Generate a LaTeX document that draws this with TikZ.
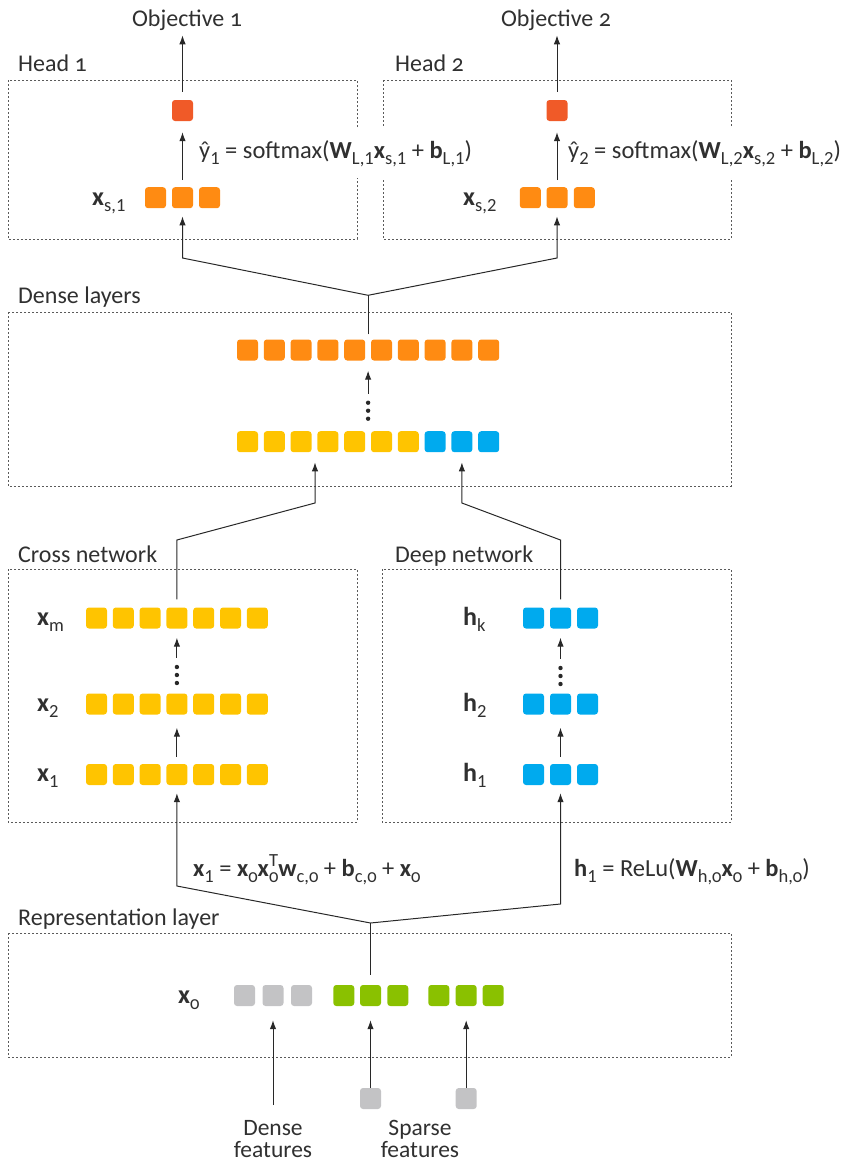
\documentclass[tikz,border=0pt]{standalone}
\usepackage{fontspec}
\setmainfont{Carlito}
\newfontfamily\oldnum{Carlito}[Numbers=OldStyle]
\usetikzlibrary{arrows.meta,calc}

\definecolor{ink}{RGB}{48,48,48}
\definecolor{wire}{RGB}{40,40,40}
\definecolor{frame}{RGB}{90,90,90}
\definecolor{cred}{RGB}{240,90,40}
\definecolor{corange}{RGB}{255,139,18}
\definecolor{cyellow}{RGB}{255,196,0}
\definecolor{cblue}{RGB}{0,170,238}
\definecolor{cgreen}{RGB}{138,193,0}
\definecolor{cgray}{RGB}{195,195,197}

% subscripts and superscripts in the formulas
\newcommand{\lo}[1]{\raisebox{-6pt}{\fontsize{18.5}{18.5}\selectfont #1}}
\newcommand{\hi}[1]{\raisebox{10pt}{\fontsize{18.5}{18.5}\selectfont #1}}
\newcommand{\zr}{{\oldnum 0}}

\begin{document}
\begin{tikzpicture}[x=1pt,y=-1pt,
  sq/.style={rectangle,minimum size=21pt,inner sep=0pt,rounded corners=3pt,draw=none},
  frm/.style={draw=frame,line width=0.9pt,dash pattern=on 2pt off 2pt},
  title/.style={text=ink,inner sep=0pt,anchor=base west,font=\oldnum\fontsize{24}{24}\selectfont},
  var/.style={text=ink,inner sep=0pt,anchor=base west,font=\fontsize{26}{26}\selectfont},
  eqn/.style={text=ink,inner sep=0pt,anchor=base west,font=\fontsize{24.5}{24.5}\selectfont},
  feat/.style={text=ink,inner sep=0pt,align=center,font=\fontsize{23.5}{22}\selectfont},
  vdots/.style={inner sep=0pt,minimum width=6pt,minimum height=22pt},
  line/.style={draw=wire,line width=1pt},
  arr/.style={line,-{Latex[length=9pt,width=6.5pt]}}]

\useasboundingbox (0,0) rectangle (860,1163);

% ---------- dashed frames ----------
\draw[frm] (8,80) rectangle (357,239);
\draw[frm] (383,80) rectangle (731,239);
\draw[frm] (8,312) rectangle (731,486);
\draw[frm] (8,569) rectangle (357,822);
\draw[frm] (382,569) rectangle (731,822);
\draw[frm] (8,933) rectangle (731,1057);

% ---------- frame titles ----------
\node[title] (tHead1) at (18,71) {Head 1};
\node[title] (tHead2) at (395,71) {Head 2};
\node[title] (tDense) at (18,303) {Dense layers};
\node[title] (tCross) at (18,562) {Cross network};
\node[title] (tDeep) at (395,562) {Deep network};
\node[title] (tRep) at (18,925) {Representation layer};

% ---------- heads ----------
\node[title,anchor=base] (obj1) at (187,26) {Objective 1};
\node[title,anchor=base] (obj2) at (556,26) {Objective 2};

\node[sq,fill=cred] (r1) at (182.5,110.5) {};
\node[sq,fill=cred] (r2) at (557,110.5) {};
\foreach \i/\x in {1/155.5,2/182.5,3/209.5}
  \node[sq,fill=corange] (sa\i) at (\x,197.7) {};
\foreach \i/\x in {1/530.3,2/557,3/584.3}
  \node[sq,fill=corange] (sb\i) at (\x,197.7) {};

\node[var] (lxs1) at (92,205) {\textbf{x}\lo{s,1}};
\node[var] (lxs2) at (463,205) {\textbf{x}\lo{s,2}};

\node[eqn,fill=white,inner xsep=3pt,inner ysep=12pt] (eq1) at (196,158)
  {ŷ\lo{1} = softmax(\textbf{W}\lo{L,1}\textbf{x}\lo{s,1} + \textbf{b}\lo{L,1})};
\node[eqn,fill=white,inner xsep=3pt,inner ysep=12pt] (eq2) at (565,158)
  {ŷ\lo{2} = softmax(\textbf{W}\lo{L,2}\textbf{x}\lo{s,2} + \textbf{b}\lo{L,2})};

\draw[arr,shorten <=8pt,shorten >=5pt] (r1.north) -- (r1.north |- obj1.south);
\draw[arr,shorten <=8pt,shorten >=5pt] (r2.north) -- (r2.north |- obj2.south);
\draw[arr,shorten <=7pt,shorten >=11pt] (sa2.north) -- (r1.south);
\draw[arr,shorten <=7pt,shorten >=11pt] (sb2.north) -- (r2.south);

% ---------- dense layers ----------
\foreach \i in {1,...,10}
  \node[sq,fill=corange] (do\i) at ({247.5+26.8*(\i-1)},350) {};
\foreach \i in {1,...,7}
  \node[sq,fill=cyellow] (dy\i) at ({247.5+26.8*(\i-1)},441.7) {};
\foreach \i in {8,9,10}
  \node[sq,fill=cblue] (dy\i) at ({247.5+26.8*(\i-1)},441.7) {};

\coordinate (dtop) at ($(do5.north)!0.5!(do6.north)$);
\coordinate (dbot) at ($(do5.south)!0.5!(do6.south)$);
\node[vdots] (dd) at ($(dbot)+(0,50)$) {};
\foreach \d in {-8,0,8} \fill[wire] ($(dd.center)+(0,\d)$) circle (2.2pt);
\draw[arr,shorten <=6pt,shorten >=10pt] (dd.north) -- (dbot);

% outputs of the dense stack to both heads
\coordinate (hj) at ($(dtop)+(0,-44)$);
\coordinate (hc1) at (sa2 |- 0,258);
\coordinate (hc2) at (sb2 |- 0,258);
\draw[line,shorten <=5pt] (dtop) -- (hj);
\draw[arr,shorten >=8pt] (hj) -- (hc1) -- (sa2.south);
\draw[arr,shorten >=8pt] (hj) -- (hc2) -- (sb2.south);

% ---------- cross network ----------
\foreach \r/\y in {m/618,2/704,1/774.5}
  \foreach \i in {1,...,7}
    \node[sq,fill=cyellow] (x\r\i) at ({96.5+26.8*(\i-1)},\y) {};
\node[var] (lxm) at (37,625) {\textbf{x}\lo{m}};
\node[var] (lx2) at (37,711) {\textbf{x}\lo{2}};
\node[var] (lx1) at (37,781.5) {\textbf{x}\lo{1}};

\node[vdots] (cd) at (xm4 |- 0,675) {};
\foreach \d in {-8,0,8} \fill[wire] ($(cd.center)+(0,\d)$) circle (2.2pt);
\draw[arr,shorten <=6pt,shorten >=9pt] (cd.north) -- (xm4.south);
\draw[arr,shorten <=7pt,shorten >=13pt] (x14.north) -- (x24.south);

% ---------- deep network ----------
\foreach \r/\y in {k/618,2/704,1/774.5}
  \foreach \i in {1,2,3}
    \node[sq,fill=cblue] (h\r\i) at ({533.5+27*(\i-1)},\y) {};
\node[var] (lhk) at (463,625) {\textbf{h}\lo{k}};
\node[var] (lh2) at (463,711) {\textbf{h}\lo{2}};
\node[var] (lh1) at (463,781.5) {\textbf{h}\lo{1}};

\node[vdots] (hd) at (hk2 |- 0,676) {};
\foreach \d in {-8,0,8} \fill[wire] ($(hd.center)+(0,\d)$) circle (2.2pt);
\draw[arr,shorten <=6pt,shorten >=9pt] (hd.north) -- (hk2.south);
\draw[arr,shorten <=7pt,shorten >=13pt] (h12.north) -- (h22.south);

% cross and deep outputs into the dense stack
\coordinate (ucl) at (xm4 |- 0,540);
\coordinate (ucl2) at (315,503);
\coordinate (ucr) at (hk2 |- 0,540);
\coordinate (ucr2) at (dy9 |- 0,503);
\draw[arr,shorten <=8pt,shorten >=10pt] (xm4.north) -- (ucl) -- (ucl2) -- (ucl2 |- dy4.south);
\draw[arr,shorten <=8pt,shorten >=10pt] (hk2.north) -- (ucr) -- (ucr2) -- (dy9.south);

% ---------- representation layer ----------
\foreach \i/\x in {1/244.5,2/273,3/301.5}
  \node[sq,fill=cgray] (gx\i) at (\x,995.5) {};
\foreach \i/\x in {1/343.8,2/370.5,3/397.8}
  \node[sq,fill=cgreen] (g\i) at (\x,995.5) {};
\foreach \i/\x in {1/438.8,2/466.2,3/493.2}
  \node[sq,fill=cgreen] (k\i) at (\x,995.5) {};
\node[var] (lx0) at (178,1003) {\textbf{x}\lo{\zr}};

\node[sq,fill=cgray] (sp1) at (g2 |- 0,1098.5) {};
\node[sq,fill=cgray] (sp2) at (k2 |- 0,1098.5) {};

\node[feat] (fdense) at (273,1139) {Dense\\features};
\node[feat] (fsparse) at (420,1139) {Sparse\\features};

\coordinate (dfin) at (gx2 |- 0,1105);
\draw[arr,shorten >=14pt] (dfin) -- (gx2.south);
\draw[arr,shorten >=14pt] (sp1.north) -- (g2.south);
\draw[arr,shorten >=14pt] (sp2.north) -- (k2.south);

% x0 feeds both towers
\coordinate (rj) at (g2 |- 0,923);
\coordinate (lc) at (x14 |- 0,886);
\coordinate (rc) at (h12 |- 0,904);
\draw[line,shorten <=10pt] (g2.north) -- (rj);
\draw[arr,shorten >=8pt] (rj) -- (lc) -- (x14.south);
\draw[arr,shorten >=8pt] (rj) -- (rc) -- (h12.south);

\node[eqn] (eqx) at (193,876)
  {\textbf{x}\lo{1} = \textbf{x}\lo{\zr}\textbf{x}\rlap{\hi{T}}\lo{\zr}\textbf{w}\lo{c,\zr} + \textbf{b}\lo{c,\zr} + \textbf{x}\lo{\zr}};
\node[eqn] (eqh) at (574,876)
  {\textbf{h}\lo{1} = ReLu(\textbf{W}\lo{h,\zr}\textbf{x}\lo{\zr} + \textbf{b}\lo{h,\zr})};

\end{tikzpicture}
\end{document}
